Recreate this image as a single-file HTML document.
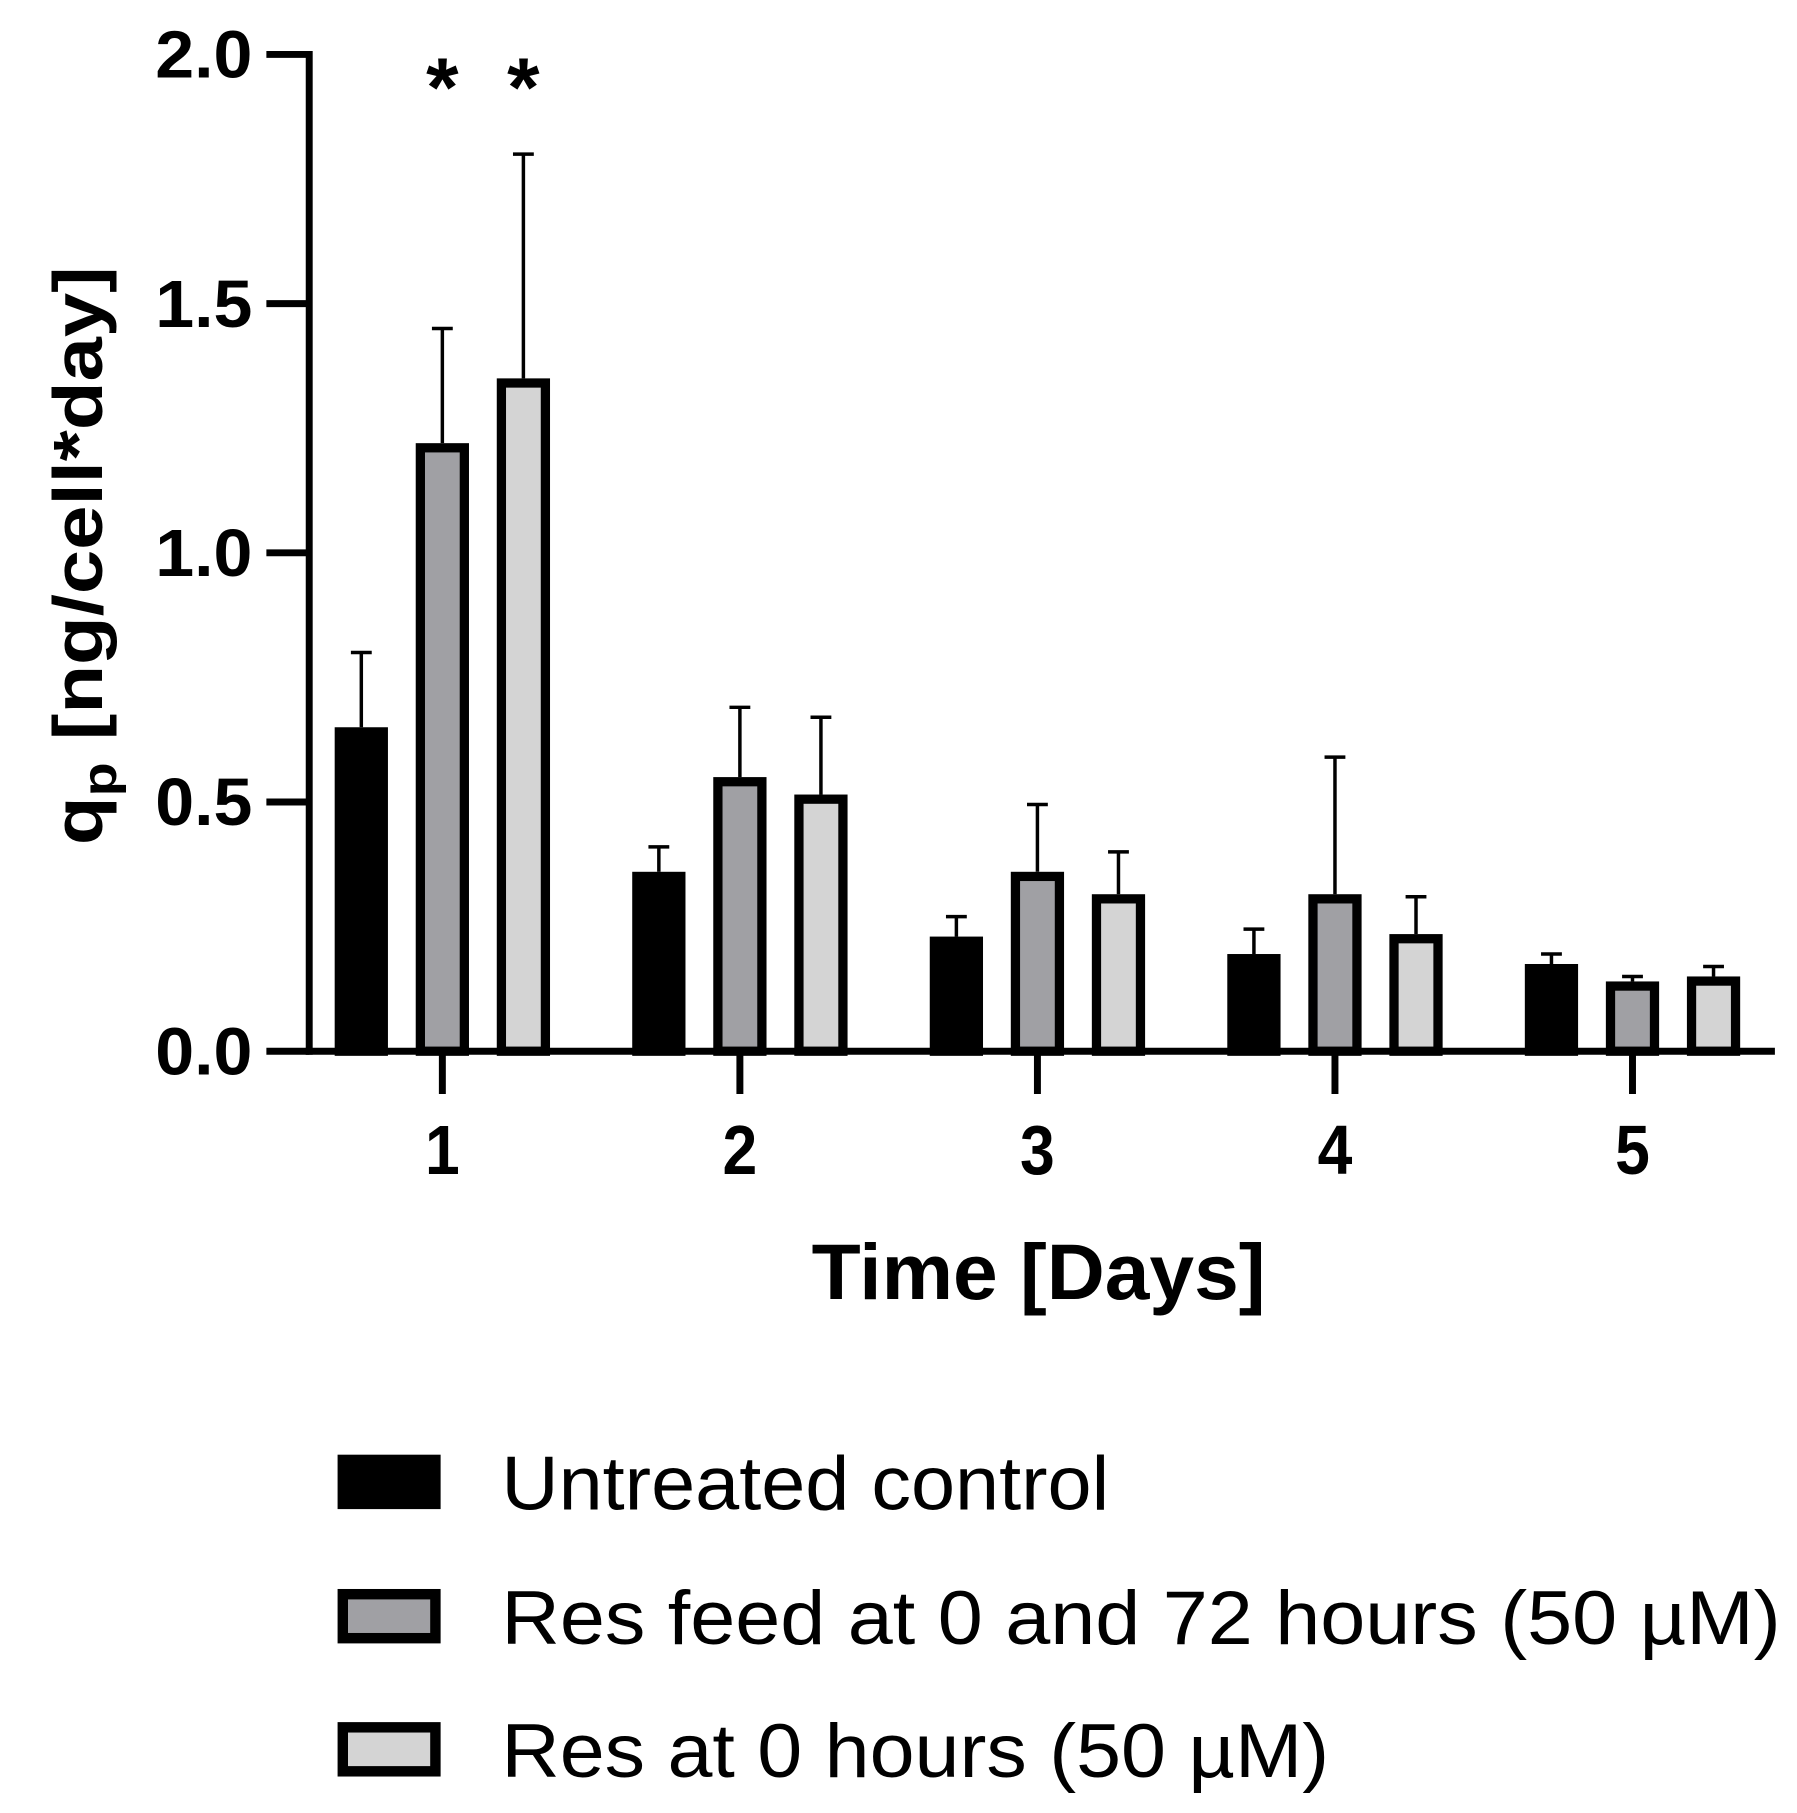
<!DOCTYPE html>
<html><head><meta charset="utf-8"><style>html,body{margin:0;padding:0;background:#fff}svg{display:block}text{font-family:"Liberation Sans",Arial,sans-serif}</style></head>
<body>
<svg id="chart" width="1797" height="1813" viewBox="0 0 1552 1566" xmlns="http://www.w3.org/2000/svg">
<g id="plot"></g>
</svg>
<script>
const categories = ["1","2","3","4","5"];
const seriesNames = ["Untreated control","Res feed at 0 and 72 hours (50 µM)","Res at 0 hours (50 µM)"];
const control = [0.65,0.36,0.23,0.195,0.175];
const feed = [1.22,0.55,0.36,0.315,0.14];
const single = [1.35,0.515,0.315,0.235,0.15];
const controlErr = [0.80,0.41,0.27,0.245,0.195];
const feedErr = [1.45,0.69,0.495,0.59,0.15];
const singleErr = [1.80,0.67,0.40,0.31,0.17];
const yTicks = [0,0.5,1.0,1.5,2.0];
const yTickLabels = ["0.0","0.5","1.0","1.5","2.0"];
const sigMarks = [[0,1],[0,2]];

const NS="http://www.w3.org/2000/svg";
const g=document.getElementById('plot');
const fills=["#000","#a0a0a4","#d4d4d4"];
const X0=267, Y0=908, YT=47;
function y(v){return Y0-(v/2.0)*(Y0-YT);}
function x(i){return 382+i*257;}
const off=[-70,0,70];
function mk(tag,attrs,parent){const e=document.createElementNS(NS,tag);for(const k in attrs)e.setAttribute(k,attrs[k]);(parent||g).appendChild(e);return e;}

const vals=[control,feed,single], errs=[controlErr,feedErr,singleErr];
const names=["bar-control","bar-feed","bar-single"];
for(let s=0;s<3;s++){
  for(let i=0;i<categories.length;i++){
    const cx=x(i)+off[s];
    const top=y(vals[s][i]), et=y(errs[s][i]);
    const el=mk('line',{x1:cx,x2:cx,y1:top,y2:et,stroke:'#000','stroke-width':3});
    
    
    const cap=mk('line',{x1:cx-9,x2:cx+9,y1:et,y2:et,stroke:'#000','stroke-width':3});
    
    
    const r=mk('rect',{x:cx-19,y:top+4,width:38,height:Y0-top-4,fill:fills[s],stroke:'#000','stroke-width':8});
    
    
  }
}
let ax=mk('line',{x1:X0,x2:X0,y1:YT-3,y2:Y0+3,stroke:'#000','stroke-width':6});


ax=mk('line',{x1:X0-3,x2:1533,y1:Y0,y2:Y0,stroke:'#000','stroke-width':6});


for(let k=0;k<yTicks.length;k++){
  const yy=y(yTicks[k]);
  const t=mk('line',{x1:230,x2:X0,y1:yy,y2:yy,stroke:'#000','stroke-width':6});
  
  
  const tx=mk('text',{x:218,y:yy+20,'text-anchor':'end','font-size':58,'font-weight':'bold',textLength:84,lengthAdjust:'spacingAndGlyphs'});
  tx.textContent=yTickLabels[k];
  
  
}
for(let i=0;i<categories.length;i++){
  const t=mk('line',{x1:x(i),x2:x(i),y1:Y0,y2:945,stroke:'#000','stroke-width':6});
  
  
  const tx=mk('text',{x:x(i),y:1014,'text-anchor':'middle','font-size':60,'font-weight':'bold',textLength:30,lengthAdjust:'spacingAndGlyphs'});
  tx.textContent=categories[i];
  
  
}
for(const [i,s] of sigMarks){
  const tx=mk('text',{x:x(i)+off[s],y:100,'text-anchor':'middle','font-size':72,'font-weight':'bold'});
  tx.textContent='*';
  
  
}
let tt=mk('text',{x:897,y:1122,'text-anchor':'middle','font-size':68,'font-weight':'bold',textLength:392,lengthAdjust:'spacingAndGlyphs'});
tt.textContent='Time [Days]';


tt=mk('text',{transform:'translate(88,480) rotate(-90)','text-anchor':'middle','font-size':60,'font-weight':'bold',textLength:500,lengthAdjust:'spacingAndGlyphs'});
tt.innerHTML='q<tspan font-size="42" dy="12">p</tspan><tspan dy="-12"> [ng/cell*day]</tspan>';


const ly=[1280,1396,1511];
const lw=[525,1105,715];
for(let s=0;s<3;s++){
  const b=mk('rect',{x:296,y:ly[s]-19,width:80,height:38,fill:fills[s],stroke:'#000','stroke-width':9});
  
  
  const t=mk('text',{x:433,y:ly[s]+24,'font-size':66,textLength:lw[s],lengthAdjust:'spacingAndGlyphs'});
  t.textContent=seriesNames[s];
  
  
}
</script>
</body></html>
